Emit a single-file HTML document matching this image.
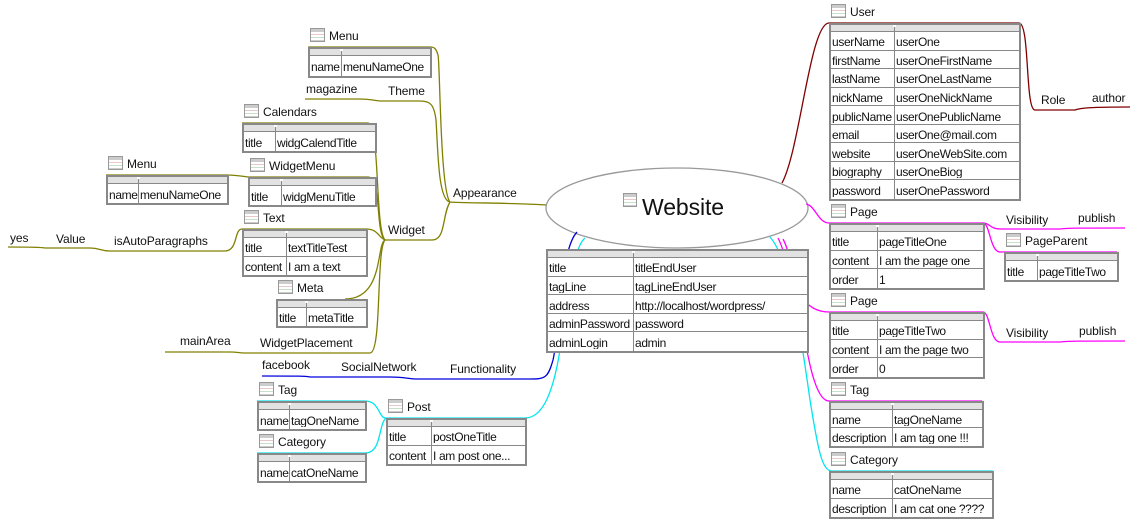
<!DOCTYPE html>
<html><head><meta charset="utf-8">
<style>
html,body{margin:0;padding:0;background:#fff;}
body{width:1139px;height:523px;position:relative;overflow:hidden;font-family:"Liberation Sans",Tahoma,sans-serif;font-size:12px;color:#111;}
.t{position:absolute;border:2px solid #888;box-sizing:border-box;background:#fff;}
.hd{position:absolute;left:0;top:0;height:6px;background:#e2e2e2;border-bottom:1px solid #888;}
.c{position:absolute;overflow:hidden;white-space:nowrap;line-height:1;box-sizing:border-box;padding-left:1px;font-size:12px;letter-spacing:-0.35px;}
.l{position:absolute;white-space:nowrap;font-size:12px;color:#111;letter-spacing:-0.1px;}
.ic{position:absolute;width:15px;height:14px;box-sizing:border-box;border:1px solid #999;background:linear-gradient(#ccc 0 3px,#fff 3px 5px,#e8c8c8 5px 6px,#fff 6px 8px,#c8e0c8 8px 9px,#fff 9px 11px,#ccc 11px);}
svg{position:absolute;left:0;top:0;}
</style></head><body>
<svg width="1139" height="523" fill="none" stroke-width="1.3">
<ellipse cx="677" cy="208" rx="131" ry="40" stroke="#999" fill="#fff"/>
<g stroke="#808000">
<path d="M546,205 C520,203 460,203 450,202 C438,200 438,150 436,120 C434,104 430,101 420,101 L380,101 C370,100 370,99 360,99 L305,99"/>
<path d="M450,202 C440,190 440,60 438,55 C436,48 434,47 430,47 L308,47"/>
<path d="M450,202 C442,215 446,240 432,240 L385,240"/>
<path d="M385,240 C375,230 380,123 368,123 L242,123"/>
<path d="M385,240 C375,232 382,177 368,177 L248,177 C240,176 236,175 227,175 L106,175"/>
<path d="M385,240 C378,237 378,229 366,229 L242,229 C234,229 238,251 225,251 L110,251 C100,251 100,248 90,248 L45,248 C40,247 30,247 8,247"/>
<path d="M385,240 C376,245 384,299 345,299"/>
<path d="M385,240 C376,250 382,353 370,353 L245,353 C238,353 238,352 230,352 L165,352"/>
</g>
<path stroke="#0000dd" d="M577,232 C560,250 560,330 553,360 C548,378 545,379 530,379 L415,379 C405,378 400,377 390,377 L310,377 C305,376 300,376 262,376"/>
<g stroke="#00e5ee">
<path d="M585,238 C570,250 565,330 560,350 C552,400 540,418 525,418 L386,418"/>
<path d="M386,418 C378,418 380,401 365,401 L257,401"/>
<path d="M386,418 C378,425 382,453 365,453 L257,453"/>
<path d="M770,237 C790,260 800,330 810,400 C818,450 822,471 832,471 L993,471"/>
</g>
<g stroke="#ff00ff">
<path d="M806,204 C815,205 818,223 829,223 L983,223 C990,223 990,229 1000,229 L1060,229 C1070,228 1075,228 1125,228"/>
<path d="M983,223 C990,223 990,252 1000,252 L1117,252"/>
<path d="M778,238 C790,260 792,312 829,312 L983,312 C990,312 990,342 1000,342 L1060,342 C1070,341 1080,341 1125,341"/>
<path d="M783,239 C800,270 805,401 829,401 L982,401"/>
</g>
<path stroke="#800000" d="M782,183 C800,150 810,23 829,23 L1019,23 C1030,23 1025,110 1035,110 L1075,110 C1080,108 1090,107 1130,107"/>
</svg>

<div class="ic" style="left:623px;top:193px;width:14px;height:14px"></div>
<div class="l" style="left:642px;top:194px;font-size:23px;">Website</div>

<script>
function icon(x,y){var d=document.createElement('div');d.className='ic';d.style.left=x+'px';d.style.top=y+'px';document.body.appendChild(d);}
function lab(x,y,t){var d=document.createElement('div');d.className='l';d.style.left=x+'px';d.style.top=y+'px';d.textContent=t;document.body.appendChild(d);}
function T(x,y,x2,y2,split,rows,title){
 if(title){icon(x+2,y-19);lab(x+21,y-18,title);}
 var t=document.createElement('div');t.className='t';
 t.style.left=x+'px';t.style.top=y+'px';t.style.width=(x2-x)+'px';t.style.height=(y2-y)+'px';
 var W=x2-x-4,H=y2-y-4,hh=6;
 var h=document.createElement('div');h.className='hd';h.style.width=W+'px';t.appendChild(h);
 var rh=(H-hh-1)/rows.length;var sx=split-x-2;
 var v=document.createElement('div');v.style.cssText='position:absolute;top:0;bottom:0;left:'+sx+'px;width:1px;background:#888';t.appendChild(v);
 var g=document.createElement('div');g.style.cssText='position:absolute;top:0;height:2px;left:'+(sx-1)+'px;width:3px;background:#fff';t.appendChild(g);
 rows.forEach(function(r,i){
  var top=hh+1+i*rh;
  if(i>0){var ln=document.createElement('div');ln.style.cssText='position:absolute;left:0;width:'+W+'px;height:1px;background:#888;top:'+Math.round(top-1)+'px';t.appendChild(ln);}
  [[0,sx,r[0]],[sx+1,W-sx-1,r[1]]].forEach(function(c){
   var d=document.createElement('div');d.className='c';d.textContent=c[2];
   d.style.left=c[0]+'px';d.style.width=c[1]+'px';d.style.top=Math.round(top+(rh-12)/2+1)+'px';t.appendChild(d);});
 });
 document.body.appendChild(t);
}
T(308,47,432,78,341,[['name','menuNameOne']],'Menu');
T(242,123,377,153,275,[['title','widgCalendTitle']],'Calendars');
T(106,175,229,205,138,[['name','menuNameOne']],'Menu');
T(248,177,377,207,281,[['title','widgMenuTitle']],'WidgetMenu');
T(242,229,368,277,286,[['title','textTitleTest'],['content','I am a text']],'Text');
T(276,299,368,328,306,[['title','metaTitle']],'Meta');
T(829,23,1021,201,894,[['userName','userOne'],['firstName','userOneFirstName'],['lastName','userOneLastName'],['nickName','userOneNickName'],['publicName','userOnePublicName'],['email','userOne@mail.com'],['website','userOneWebSite.com'],['biography','userOneBiog'],['password','userOnePassword']],'User');
T(546,249,809,353,633,[['title','titleEndUser'],['tagLine','tagLineEndUser'],['address','http://localhost/wordpress/'],['adminPassword','password'],['adminLogin','admin']],null);
T(829,223,985,290,877,[['title','pageTitleOne'],['content','I am the page one'],['order','1']],'Page');
T(1004,252,1119,282,1037,[['title','pageTitleTwo']],'PageParent');
T(829,312,985,379,877,[['title','pageTitleTwo'],['content','I am the page two'],['order','0']],'Page');
T(829,401,984,448,892,[['name','tagOneName'],['description','I am tag one !!!']],'Tag');
T(829,471,994,519,892,[['name','catOneName'],['description','I am cat one ????']],'Category');
T(257,401,367,431,289,[['name','tagOneName']],'Tag');
T(257,453,367,483,289,[['name','catOneName']],'Category');
T(386,418,527,466,431,[['title','postOneTitle'],['content','I am post one...']],'Post');
[[306,82,'magazine'],[388,84,'Theme'],[453,186,'Appearance'],[388,223,'Widget'],[10,231,'yes'],[56,232,'Value'],[114,234,'isAutoParagraphs'],[180,334,'mainArea'],[260,336,'WidgetPlacement'],[262,358,'facebook'],[341,360,'SocialNetwork'],[450,362,'Functionality'],
[1041,93,'Role'],[1092,91,'author'],[1006,213,'Visibility'],[1078,211,'publish'],[1006,326,'Visibility'],[1079,324,'publish']].forEach(function(a){lab(a[0],a[1],a[2]);});
</script>
</body></html>
